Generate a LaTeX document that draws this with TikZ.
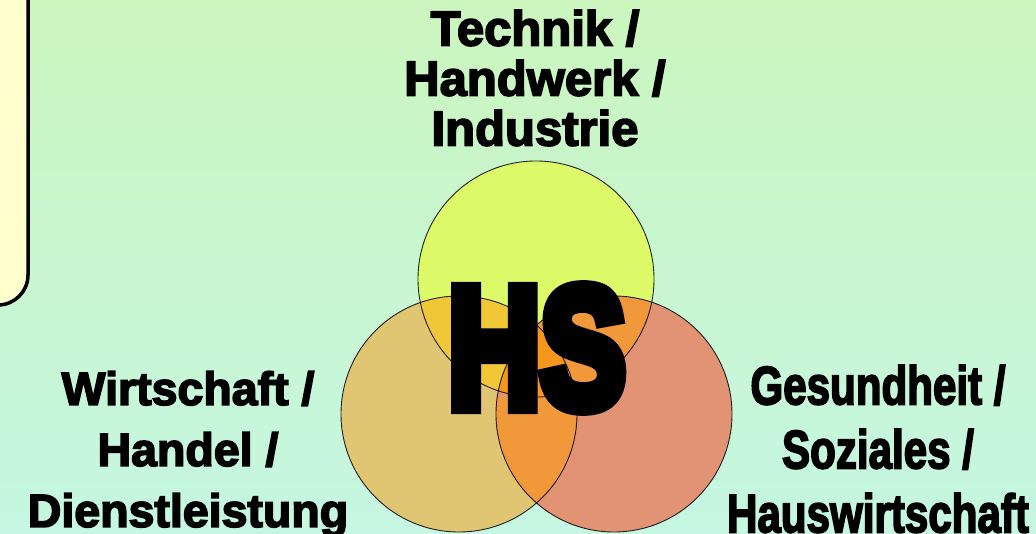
\documentclass[tikz,border=0pt]{standalone}
\usepackage{fontspec}
\setmainfont{Liberation Sans}
\newfontfamily\labelfont{Liberation Sans}[BoldFeatures={FakeBold=3.5}]
\newfontfamily\hsfont{Liberation Sans}[BoldFeatures={FakeBold=9}]
\usetikzlibrary{positioning}

\definecolor{bgtop}{RGB}{203,246,190}
\definecolor{bgmid}{RGB}{184,245,218}
\definecolor{bgbot}{RGB}{197,247,226}
\definecolor{boxfill}{RGB}{255,255,206}
\definecolor{techcol}{RGB}{221,250,105}
\definecolor{tradecol}{RGB}{224,198,115}
\definecolor{carecol}{RGB}{225,147,115}
\definecolor{techtrade}{RGB}{240,200,55}
\definecolor{mixcol}{RGB}{240,152,58}
\definecolor{corecol}{RGB}{247,150,28}

\begin{document}
\begin{tikzpicture}[x=1pt, y=-1pt,
    ring/.style={circle, minimum size=236pt, inner sep=0pt},
    lbl/.style={font=\labelfont\bfseries\fontsize{49}{50}\selectfont, align=center, inner sep=0pt},
    rim/.style={draw=black, draw opacity=0.85, line width=0.9pt}]
    \clip (0,0) rectangle (1036,533);
    \shade[top color=bgtop, middle color=bgmid, bottom color=bgbot] (0,0) rectangle (1036,533);
    \draw[rounded corners=30pt, line width=3.5pt, fill=boxfill] (-60,-60) rectangle (28,305);
    % the three fields
    \node[ring, fill=techcol] (tech) at (536,279) {};
    \node[ring, fill=tradecol, on grid, below left=135pt and 77pt of tech] (trade) {};
    \node[ring, fill=carecol, on grid, below right=135pt and 78pt of tech] (care) {};
    \begin{scope}
        \clip (tech.center) circle (118pt);
        \fill[techtrade] (trade.center) circle (118pt);
        \fill[mixcol] (care.center) circle (118pt);
        \clip (trade.center) circle (118pt);
        \fill[corecol] (care.center) circle (118pt);
    \end{scope}
    \begin{scope}
        \clip (trade.center) circle (118pt);
        \clip (care.center) circle (118pt);
        \fill[mixcol] (tech.center) ++(-200,118) rectangle ++(400,200);
        \clip (tech.center) circle (118pt);
        \fill[corecol] (tech.center) circle (118pt);
    \end{scope}
    \draw[rim] (tech.center) circle (118pt);
    \draw[rim] (trade.center) circle (118pt);
    \draw[rim] (care.center) circle (118pt);
    % labels
    \node[font=\hsfont\bfseries\fontsize{170}{170}\selectfont, xscale=0.75, inner sep=0pt] (hs) at (537,348) {HS};
    \node[lbl] (techlbl) at (535,78) {Technik /\\Handwerk /\\Industrie};
    \node[lbl, font=\labelfont\bfseries\fontsize{46.5}{61}\selectfont] (tradelbl) at (188,454) {Wirtschaft /\\Handel /\\Dienstleistung};
    \node[lbl, font=\labelfont\bfseries\fontsize{54}{64}\selectfont, xscale=0.78] (carelbl) at (878,449) {Gesundheit /\\Soziales /\\Hauswirtschaft};
\end{tikzpicture}
\end{document}
